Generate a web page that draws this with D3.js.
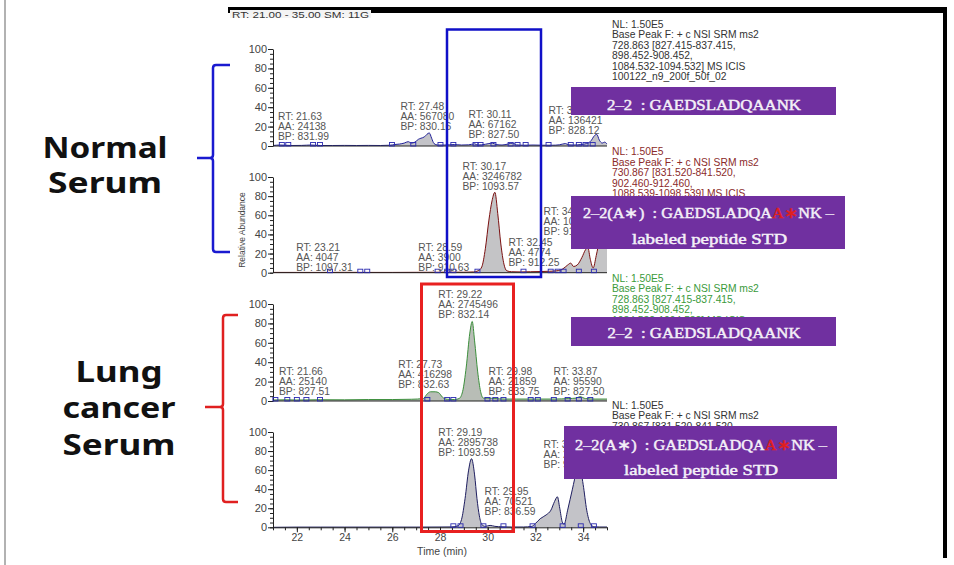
<!DOCTYPE html>
<html><head><meta charset="utf-8">
<script src="https://cdn.jsdelivr.net/npm/d3@7"></script>
<style>
body{margin:0;background:#fff;}
svg{display:block;font-family:"Liberation Sans",Arial,sans-serif;}
</style></head><body>
<svg id="chart" width="954" height="565"></svg>
<script>
// ---------------- DATA ----------------
const timeDomain = [21, 35];
const yTickValues = [0, 20, 40, 60, 80, 100];
const xTickValues = [22, 24, 26, 28, 30, 32, 34];

// Panel 1: Normal serum, endogenous 2-2
const p1Time  = [21.0,21.3,21.5,21.8,22.2,22.6,23.0,23.5,24.0,24.5,25.0,25.5,25.9,26.1,26.3,26.5,26.67,26.8,26.95,27.1,27.2,27.35,27.45,27.55,27.65,27.75,27.9,28.2,28.6,28.9,29.2,29.45,29.6,29.9,30.05,30.2,30.35,30.6,30.85,31.05,31.2,31.5,31.9,32.3,32.7,33.0,33.25,33.4,33.6,33.9,34.15,34.35,34.45,34.57,34.68,34.8,34.9,35.0];
const p1Abund = [0.5,1,0.8,0.5,0.6,1,0.5,0.5,0.6,0.5,0.6,0.5,0.8,1.5,2,3,4.5,3,4,7,8,9.5,12,13.5,8,2.5,1,1,1.5,1,1.2,2.2,1,1.8,2.5,3,1.5,1,2,3,1.2,0.8,1,0.8,0.8,1.2,2.5,1.2,1,1.5,2.5,6,10,12,6,3,4,2];
// Panel 2: Normal serum, labeled peptide STD
const p2Time  = [21.0,22.0,23.0,24.0,25.0,26.0,27.0,28.0,28.6,29.0,29.4,29.6,29.75,29.9,30.05,30.18,30.3,30.42,30.55,30.68,30.8,31.0,31.4,31.8,32.2,32.6,32.9,33.15,33.35,33.48,33.6,33.75,33.95,34.1,34.2,34.3,34.42,34.55,34.7,34.85,35.0];
const p2Abund = [0.3,0.3,0.3,0.4,0.3,0.3,0.4,0.5,0.6,0.5,0.8,2,6,25,55,75,84,62,30,9,2,1,0.8,1,1.2,1.5,2,4,8,10,6.5,8,16,24,26,14,5,18,35,42,38];
// Panel 3: Lung cancer serum, endogenous 2-2
const p3Time  = [21.0,21.5,22.0,23.0,24.0,25.0,26.0,26.8,27.3,27.45,27.6,27.8,27.95,28.1,28.3,28.6,28.8,28.95,29.1,29.25,29.35,29.45,29.58,29.7,29.82,30.0,30.3,30.7,31.2,32.0,32.8,33.4,33.7,33.87,34.1,34.5,35.0];
const p3Abund = [1,1.2,1,1.3,1.2,1.5,1.5,1.8,2.5,7,9.5,9.5,8.5,4,1.8,1.5,2.5,10,35,70,82,62,30,10,3,3,2.5,2,2,2,2,2.5,3,4.5,2.5,2,2];
// Panel 4: Lung cancer serum, labeled peptide STD
const p4Time  = [21.0,22.0,23.0,24.0,25.0,26.0,27.0,28.0,28.5,28.75,28.9,29.05,29.2,29.32,29.45,29.55,29.65,29.75,29.9,30.1,30.3,30.6,31.0,31.5,31.85,32.0,32.2,32.45,32.65,32.8,32.92,33.02,33.12,33.2,33.35,33.55,33.72,33.85,34.0,34.15,34.3,34.45,34.7,35.0];
const p4Abund = [0,0.2,0.2,0.2,0.2,0.2,0.2,0.3,0.4,1.5,8,30,60,72,55,30,12,3,1,2,1,0.5,0.3,0.3,1,4,9,13,18,27,32,20,6,3,18,40,58,64,45,18,4,0.5,0.3,0.3];

// Peak boundary markers (min)
const p1Marks = [21.37,21.64,22.68,22.97,25.99,26.88,28.02,28.56,29.49,29.7,30.24,30.96,31.25,31.59,32.55,33.48,33.82,34.1,34.4];
const p2Marks = [23.39,24.66,24.95,27.9,28.3,28.56,29.57,31.5,32.64,32.93,33.18,33.82,34.45];
const p3Marks = [21.1,21.6,22.0,22.4,22.97,27.47,28.3,28.56,29.99,30.32,30.66,31.8,32.1,32.77,33.35,33.82,34.3];
const p4Marks = [28.56,28.86,29.82,30.66,31.88,33.14,33.9,34.45];

// Peak labels: text lines + anchor (time, abundance) of first line
const p1Labels = [
  {lines:["RT: 21.63","AA: 24138","BP: 831.99"], t:21.21, v:26.3},
  {lines:["RT: 27.48","AA: 567080","BP: 830.16"], t:26.34, v:36.6},
  {lines:["RT: 30.11","AA: 67162","BP: 827.50"], t:29.19, v:28.4},
  {lines:["RT: 34.57","AA: 136421","BP: 828.12"], t:32.55, v:33.5}
];
const p2Labels = [
  {lines:["RT: 23.21","AA: 4047","BP: 1097.31"], t:21.97, v:22.2},
  {lines:["RT: 28.59","AA: 3900","BP: 910.63"], t:27.09, v:22.2},
  {lines:["RT: 30.17","AA: 3246782","BP: 1093.57"], t:28.94, v:107.8},
  {lines:["RT: 32.45","AA: 4774","BP: 912.25"], t:30.87, v:28.4},
  {lines:["RT: 34.21","AA: 1052437","BP: 912.26"], t:32.34, v:59.8}
];
const p3Labels = [
  {lines:["RT: 21.66","AA: 25140","BP: 827.51"], t:21.25, v:26.3},
  {lines:["RT: 27.73","AA: 416298","BP: 832.63"], t:26.25, v:34.5},
  {lines:["RT: 29.22","AA: 2745496","BP: 832.14"], t:27.93, v:105.7},
  {lines:["RT: 29.98","AA: 21859","BP: 833.75"], t:30.03, v:27.3},
  {lines:["RT: 33.87","AA: 95590","BP: 827.50"], t:32.76, v:27.3}
];
const p4Labels = [
  {lines:["RT: 29.19","AA: 2895738","BP: 1093.59"], t:27.93, v:95.3},
  {lines:["RT: 29.95","AA: 70521","BP: 836.59"], t:29.87, v:33.4},
  {lines:["RT: 33.82","AA: 2468915","BP: 912.26"], t:32.34, v:83.7}
];

// Scan header text blocks
const nl1Text = ["NL: 1.50E5","Base Peak F: + c NSI SRM ms2","728.863 [827.415-837.415,","898.452-908.452,","1084.532-1094.532] MS  ICIS","100122_n9_200f_50f_02"];
const nl2Text = ["NL: 1.50E5","Base Peak F: + c NSI SRM ms2","730.867 [831.520-841.520,","902.460-912.460,","1088.539-1098.539] MS  ICIS"];
const nl3Text = ["NL: 1.50E5","Base Peak F: + c NSI SRM ms2","728.863 [827.415-837.415,","898.452-908.452,","1084.532-1094.532] MS  ICIS"];
const nl4Text = ["NL: 1.50E5","Base Peak F: + c NSI SRM ms2","730.867 [831.520-841.520,"];

const groupNames = [["Normal","Serum"],["Lung","cancer","Serum"]];
const headerText = "RT: 21.00 - 35.00  SM: 11G";
const xTitle = "Time (min)";
const yTitle = "Relative Abundance";

// ---------------- DRAWING ----------------
const svg = d3.select("#chart");
const x = d3.scaleLinear().domain(timeDomain).range([273, 607]);
const markBlue = "#2a2ab0";

// frame
svg.append("line").attr("x1",5).attr("x2",5).attr("y1",0).attr("y2",565).attr("stroke","#999").attr("stroke-width",1.5);
svg.append("rect").attr("x",228).attr("y",7).attr("width",719).attr("height",6).attr("fill","#000");
svg.append("rect").attr("x",943).attr("y",7).attr("width",4).attr("height",551).attr("fill","#000");
svg.append("rect").attr("x",230).attr("y",10).attr("width",141).attr("height",8).attr("fill","#f4f4f4");
svg.append("text").attr("x",232).attr("y",17.5).attr("font-size",9.5).attr("fill","#333")
  .attr("textLength",137).attr("lengthAdjust","spacingAndGlyphs").text(headerText);

const panels = [
  {time:p1Time, ab:p1Abund, marks:p1Marks, labels:p1Labels, top:49,  bottom:146,  line:"#23239a", fill:"#c3c3c8"},
  {time:p2Time, ab:p2Abund, marks:p2Marks, labels:p2Labels, top:177, bottom:272.7,line:"#7a1010", fill:"#c4c4c6"},
  {time:p3Time, ab:p3Abund, marks:p3Marks, labels:p3Labels, top:304, bottom:401,  line:"#3c8f3c", fill:"#b8bdb6"},
  {time:p4Time, ab:p4Abund, marks:p4Marks, labels:p4Labels, top:432, bottom:527.3,line:"#1e1e60", fill:"#c3c3c8"}
];

panels.forEach((p, i) => {
  const y = d3.scaleLinear().domain([0,100]).range([p.bottom, p.top]);
  const pts = p.time.map((t,k)=>[t, p.ab[k]]);
  const g = svg.append("g");
  const area = d3.area().x(d=>x(d[0])).y0(y(0)).y1(d=>y(d[1])).curve(d3.curveMonotoneX);
  const line = d3.line().x(d=>x(d[0])).y(d=>y(d[1])).curve(d3.curveMonotoneX);
  g.append("path").datum(pts).attr("d",area).attr("fill",p.fill);
  g.append("path").datum(pts).attr("d",line).attr("fill","none").attr("stroke",p.line).attr("stroke-width",1);

  // y axis major + minor
  const yMinor = g.append("g").attr("transform",`translate(${x(timeDomain[0])},0)`)
    .call(d3.axisLeft(y).tickValues(d3.range(0,101,5)).tickSize(3).tickSizeOuter(0).tickFormat(""));
  yMinor.select(".domain").remove();
  const yAx = g.append("g").attr("transform",`translate(${x(timeDomain[0])},0)`)
    .call(d3.axisLeft(y).tickValues(yTickValues).tickSize(5).tickSizeOuter(0).tickPadding(1));
  yAx.selectAll("text").attr("font-size",11).attr("fill","#444").attr("font-family","Liberation Sans, Arial, sans-serif");
  g.selectAll(".tick line").attr("stroke","#222");
  yAx.select(".domain").attr("stroke","#222");

  // x axis line
  if (i < 3) {
    g.append("line").attr("x1",x(timeDomain[0])).attr("x2",x(timeDomain[1]))
      .attr("y1",y(0)).attr("y2",y(0)).attr("stroke","#222").attr("stroke-width",1);
  } else {
    const xMinor = g.append("g").attr("transform",`translate(0,${y(0)})`)
      .call(d3.axisBottom(x).tickValues(d3.range(21,35.01,0.5)).tickSize(3).tickSizeOuter(0).tickFormat(""));
    xMinor.selectAll(".tick line").attr("stroke","#222");
    xMinor.select(".domain").attr("stroke","#222");
    const xAx = g.append("g").attr("transform",`translate(0,${y(0)})`)
      .call(d3.axisBottom(x).tickValues(xTickValues).tickSize(5).tickSizeOuter(0).tickPadding(1));
    xAx.select(".domain").remove();
    xAx.selectAll(".tick line").attr("stroke","#222");
    xAx.selectAll("text").attr("font-size",10.5).attr("fill","#444").attr("font-family","Liberation Sans, Arial, sans-serif");
    svg.append("text").attr("x",442).attr("y",555).attr("text-anchor","middle")
      .attr("font-size",10.5).attr("fill","#444").text(xTitle);
  }

  // baseline markers
  g.selectAll("rect.mk").data(p.marks).join("rect").attr("class","mk")
    .attr("x",d=>x(d)-2.5).attr("y",y(0)-3.5).attr("width",5).attr("height",3.5)
    .attr("fill","none").attr("stroke",markBlue).attr("stroke-width",0.9);

  // labels
  p.labels.forEach(l => {
    const tx = g.append("text").attr("font-size",10.3).attr("fill","#555");
    l.lines.forEach((s,k)=>{
      tx.append("tspan").attr("x",x(l.t)).attr("y",y(l.v)+k*10).text(s);
    });
  });
});

// Y title
svg.append("text").attr("transform","translate(245,230) rotate(-90)").attr("text-anchor","middle")
  .attr("font-size",8.5).attr("fill","#444").text(yTitle);

// NL text blocks
function nlBlock(lines, x0, y0, color) {
  const t = svg.append("text").attr("font-size",10.3).attr("fill",color);
  lines.forEach((s,k)=> t.append("tspan").attr("x",x0).attr("y",y0+k*10.5).text(s));
}
nlBlock(nl1Text, 612, 27.5, "#333");
nlBlock(nl2Text, 612, 155, "#8b2a2a");
nlBlock(nl3Text, 612, 281.5, "#3a9a3a");
nlBlock(nl4Text, 612, 408.5, "#333");

// Highlight rectangles
svg.append("rect").attr("x",447).attr("y",29.5).attr("width",94).attr("height",247.5)
  .attr("fill","none").attr("stroke","#1010c8").attr("stroke-width",2.5);
svg.append("rect").attr("x",421.5).attr("y",284).attr("width",92).attr("height",247.5)
  .attr("fill","none").attr("stroke","#e82020").attr("stroke-width",3);

// Purple peptide boxes
const purple = "#7030a0";
const boxText = "#f4f0f8";
function pbox(x0,y0,w,h){ svg.append("rect").attr("x",x0).attr("y",y0).attr("width",w).attr("height",h).attr("fill",purple); }
function ptext(x0,yb,len,parts,size){
  const t = svg.append("text").attr("x",x0).attr("y",yb).attr("font-family","Liberation Serif, serif")
    .attr("font-weight","normal").attr("font-size",size).attr("fill",boxText)
    .attr("stroke",boxText).attr("stroke-width",0.45)
    .attr("textLength",len).attr("lengthAdjust","spacingAndGlyphs");
  parts.forEach(pp=> t.append("tspan").attr("fill",pp[1]||boxText).attr("stroke",pp[1]||boxText).text(pp[0]));
}
const nb = "\u00A0";
pbox(571,87,265,28);
ptext(607,109.5,194,[["2–2"+nb+nb+": GAEDSLADQAANK"]],14.5);
pbox(571,196,274,53);
ptext(583,218.3,251,[["2–2(A∗)"+nb+nb+": GAEDSLADQA"],["A∗","#e0201c"],["NK –"]],14.5);
ptext(632,244.3,155,[["labeled peptide STD"]],14.5);
pbox(571,317,265,29);
ptext(607.5,338.3,193,[["2–2"+nb+nb+": GAEDSLADQAANK"]],14.5);
pbox(564,426,273,53);
ptext(575,450,252,[["2–2(A∗)"+nb+nb+": GAEDSLADQA"],["A∗","#e0201c"],["NK –"]],14.5);
ptext(624,475,154,[["labeled peptide STD"]],14.5);

// Braces
svg.append("path").attr("d","M230,65 L216,65 Q213,65 213,68 L213,155 Q213,158 210,158 L197,158 M210,158 Q213,158 213,161 L213,249 Q213,252 216,252 L230,252")
  .attr("fill","none").attr("stroke","#1a1ad0").attr("stroke-width",2.5);
svg.append("path").attr("d","M238,315 L226,315 Q223,315 223,318 L223,404 Q223,407 220,407 L205,407 M220,407 Q223,407 223,410 L223,499 Q223,502 226,502 L238,502")
  .attr("fill","none").attr("stroke","#e02020").attr("stroke-width",2.5);

// Group names
function bigLabel(lines, cx, baselines, widths){
  lines.forEach((s,k)=>{
    svg.append("text").attr("x",cx).attr("y",baselines[k]).attr("text-anchor","middle")
      .attr("font-family","Noto Sans, Open Sans, sans-serif").attr("font-weight","bold")
      .attr("font-size",28).attr("fill","#111")
      .attr("textLength",widths[k]).attr("lengthAdjust","spacingAndGlyphs").text(s);
  });
}
bigLabel(groupNames[0], 105, [158,193], [125,114]);
bigLabel(groupNames[1], 119, [382,418,455], [87,113,113]);
</script>
</body></html>
